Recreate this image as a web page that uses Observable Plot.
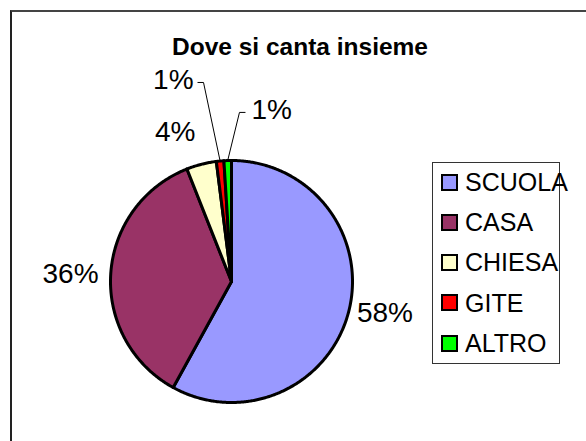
<!DOCTYPE html>
<html>
<head>
<meta charset="utf-8">
<script src="https://cdn.jsdelivr.net/npm/d3@7"></script>
<script src="https://cdn.jsdelivr.net/npm/@observablehq/plot@0.6"></script>
<style>
html, body { margin: 0; padding: 0; background: #fff; overflow: hidden; }
#wrap { position: relative; width: 586px; height: 441px; overflow: hidden; font-family: "Liberation Sans", Arial, sans-serif; background: #fff; }
#chart { position: absolute; left: 0; top: 0; }
#frame { position: absolute; left: 10px; top: 10px; width: 700px; height: 600px; border-top: 2px solid #444; border-left: 2px solid #222; pointer-events: none; }
#title { position: absolute; left: 10px; width: 580px; top: 35px; text-align: center; font-weight: bold; font-size: 24.5px; line-height: 24px; color: #000; white-space: nowrap; }
#legend { position: absolute; left: 432px; top: 162px; width: 126px; height: 200px; border: 1px solid #333; background: #fff; }
.sw { position: absolute; left: 8px; width: 17px; height: 17px; box-sizing: border-box; border: 2.5px solid #000; }
.lt { position: absolute; left: 32px; font-size: 25px; line-height: 25px; color: #000; white-space: nowrap; }
</style>
</head>
<body>
<div id="wrap">
  <div id="chart"></div>
  <div id="frame"></div>
  <div id="title"></div>
  <div id="legend"></div>
</div>
<script>
// ---- data ----
const title = "Dove si canta insieme";
const categories = ["SCUOLA", "CASA", "CHIESA", "GITE", "ALTRO"];
const values = [58, 36, 4, 1, 1];
const colors = ["#9999FF", "#993366", "#FFFFCC", "#FF0000", "#00FF00"];

// ---- label layout (Excel best-fit placement) ----
const labelLayout = [
  {r: 1.07, shift: 0, anchor: "start", leader: false},
  {r: 1.10, shift: -1, anchor: "end", leader: false},
  {r: 1.259, shift: 0.7, anchor: "end", leader: false},
  {r: 1.661, shift: -2.6, anchor: "end", leader: true},
  {r: 1.399, shift: 4.5, anchor: "start", leader: true}
];

const W = 586, H = 441;
const cx = 231, cy = 281, R = 121;
const unit = 1 / R; // one pixel in data units

const total = d3.sum(values);
const arcs = d3.pie().sort(null).value(d => d)(values);
const polar = (a, r) => ({x: r * Math.sin(a), y: r * Math.cos(a)});

// slice polygons
const slicePts = [];
arcs.forEach((a, i) => {
  const cat = categories[i];
  slicePts.push({cat, ...polar(0, 0)});
  const n = Math.max(2, Math.ceil((a.endAngle - a.startAngle) / (Math.PI / 360)));
  for (let k = 0; k <= n; k++) {
    const t = a.startAngle + (a.endAngle - a.startAngle) * k / n;
    slicePts.push({cat, ...polar(t, 1)});
  }
  slicePts.push({cat, ...polar(0, 0)});
});

// labels and leaders
const labels = [];
const leaders = [];
arcs.forEach((a, i) => {
  const L = labelLayout[i];
  const mid = (a.startAngle + a.endAngle) / 2;
  const pos = polar(mid + L.shift * Math.PI / 180, L.r);
  const text = Math.round(values[i] / total * 100) + "%";
  if (L.leader) {
    const edge = polar(mid, 1);
    const dir = L.anchor === "end" ? -1 : 1;
    const tick = {x: pos.x + dir * 6 * unit, y: pos.y};
    leaders.push({id: i, ...edge}, {id: i, ...pos}, {id: i, ...tick});
    const gap = dir === -1 ? -4 : 6;
    labels.push({text, anchor: L.anchor, x: tick.x + gap * unit, y: tick.y + 1.5 * unit});
  } else {
    labels.push({text, anchor: L.anchor, x: pos.x, y: pos.y});
  }
});

const font = "Liberation Sans, Arial, sans-serif";

const plot = Plot.plot({
  width: W, height: H,
  marginLeft: cx - R, marginRight: W - (cx + R),
  marginTop: cy - R, marginBottom: H - (cy + R),
  x: {domain: [-1, 1], axis: null},
  y: {domain: [-1, 1], axis: null},
  color: {domain: categories, range: colors},
  style: {background: "transparent"},
  marks: [
    Plot.line(slicePts, {x: "x", y: "y", z: "cat", fill: "cat", stroke: "#000", strokeWidth: 3, strokeLinejoin: "round"}),
    Plot.line(leaders, {x: "x", y: "y", z: "id", stroke: "#000", strokeWidth: 1, strokeLinejoin: "miter", strokeLinecap: "butt"}),
    Plot.text(labels.filter(d => d.anchor === "end"), {x: "x", y: "y", text: "text", textAnchor: "end", dy: -1, fontSize: 28, fontFamily: font, fill: "#000"}),
    Plot.text(labels.filter(d => d.anchor === "start"), {x: "x", y: "y", text: "text", textAnchor: "start", dy: -1, fontSize: 28, fontFamily: font, fill: "#000"})
  ]
});
document.getElementById("chart").appendChild(plot);

// title
document.getElementById("title").textContent = title;

// legend
const legend = document.getElementById("legend");
categories.forEach((c, i) => {
  const center = 19 + 40.25 * i;
  const sw = document.createElement("div");
  sw.className = "sw";
  sw.style.top = (center - 8.5) + "px";
  sw.style.background = colors[i];
  legend.appendChild(sw);
  const t = document.createElement("div");
  t.className = "lt";
  t.style.top = (center - 12.2) + "px";
  t.textContent = c;
  legend.appendChild(t);
});
</script>
</body>
</html>
